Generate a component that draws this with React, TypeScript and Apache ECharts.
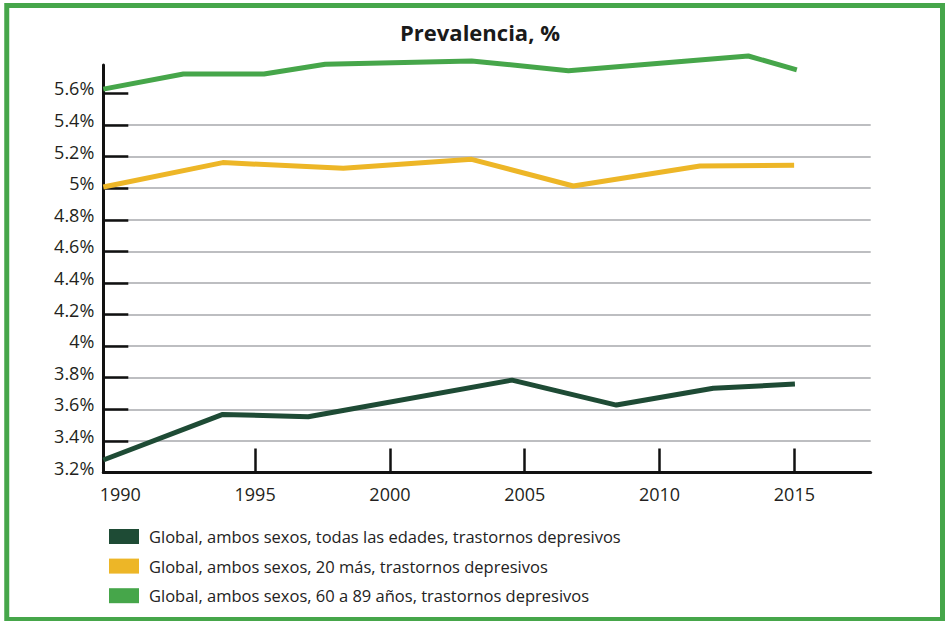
import React, { useEffect, useRef } from "react";
import * as echarts from "echarts";

const seriesNames = [
  "Global, ambos sexos, todas las edades, trastornos depresivos",
  "Global, ambos sexos, 20 más, trastornos depresivos",
  "Global, ambos sexos, 60 a 89 años, trastornos depresivos",
];
const seriesColors = ["#1E4B35", "#EDB627", "#46A64A"];

const darkYears = [1989.37, 1993.8, 1996.97, 2004.53, 2008.4, 2011.99, 2015.02];
const darkValues = [3.279, 3.568, 3.553, 3.785, 3.627, 3.733, 3.76];

const yellowYears = [1989.37, 1993.8, 1998.27, 2003.03, 2006.8, 2011.5, 2014.99];
const yellowValues = [5.008, 5.162, 5.126, 5.183, 5.014, 5.141, 5.145];

const greenYears = [1989.37, 1992.34, 1995.33, 1997.6, 2003.03, 2006.62, 2013.29, 2015.09];
const greenValues = [5.627, 5.723, 5.723, 5.785, 5.806, 5.744, 5.837, 5.749];

const xTickYears = [1990, 1995, 2000, 2005, 2010, 2015];
const xTickMarks = [1995, 2000, 2005, 2010, 2015];
const yTicks = [3.2, 3.4, 3.6, 3.8, 4.0, 4.2, 4.4, 4.6, 4.8, 5.0, 5.2, 5.4, 5.6];

function pairs(xs: number[], ys: number[]) {
  return xs.map((x, i) => [x, ys[i]]);
}

export default function App() {
  const ref = useRef<HTMLDivElement>(null);
  useEffect(() => {
    if (!ref.current) return;
    const chart = echarts.init(ref.current, undefined, { renderer: "svg" });
    const data = [
      pairs(darkYears, darkValues),
      pairs(yellowYears, yellowValues),
      pairs(greenYears, greenValues),
    ];
    chart.setOption({
      animation: false,
      backgroundColor: "#ffffff",
      title: {
        text: "Prevalencia, %",
        left: 475,
        top: 16,
        textAlign: "center",
        textStyle: {
          fontFamily: "Open Sans",
          fontWeight: "bold",
          fontSize: 22,
          color: "#1a1a1a",
        },
      },
      legend: {
        orient: "vertical",
        left: 104,
        top: 521.5,
        itemWidth: 30,
        itemHeight: 15,
        itemGap: 9.6,
        icon: "rect",
        data: seriesNames,
        textStyle: {
          fontFamily: "Open Sans",
          fontSize: 16.5,
          lineHeight: 20,
          color: "#222222",
          padding: [0, 0, 0, 5],
        },
      },
      grid: {
        left: 103.3,
        right: 74.3,
        top: 65,
        bottom: 148.5,
        containLabel: false,
      },
      xAxis: {
        type: "value",
        min: 1989.37,
        max: 2017.83,
        axisLine: { show: true, lineStyle: { color: "#111111", width: 3 } },
        axisTick: {
          show: true,
          inside: true,
          length: 24,
          customValues: xTickMarks,
          lineStyle: { color: "#111111", width: 2.5 },
        },
        axisLabel: {
          customValues: xTickYears,
          margin: 12,
          fontFamily: "Open Sans",
          fontSize: 18,
          color: "#231F20",
          formatter: (v: number) => String(Math.round(v)),
        },
        splitLine: { show: false },
      },
      yAxis: {
        type: "value",
        min: 3.2,
        max: 5.78,
        interval: 0.2,
        axisLine: { show: true, lineStyle: { color: "#111111", width: 3 } },
        axisTick: {
          show: true,
          inside: true,
          length: 25,
          customValues: yTicks,
          lineStyle: { color: "#111111", width: 2.5 },
        },
        axisLabel: {
          customValues: yTicks,
          margin: 9,
          fontFamily: "Open Sans",
          fontSize: 18,
          color: "#231F20",
          verticalAlign: "bottom",
          lineHeight: 10,
          formatter: (v: number) => Math.round(v * 10) / 10 + "%",
        },
        splitLine: {
          show: true,
          showMinLine: false,
          showMaxLine: false,
          lineStyle: { color: "#A7A9AC", width: 1.5 },
        },
      },
      series: seriesNames.map((name, i) => ({
        name,
        type: "line",
        data: data[i],
        symbol: "none",
        clip: false,
        color: seriesColors[i],
        itemStyle: { color: seriesColors[i] },
        lineStyle: { color: seriesColors[i], width: 5 },
        z: 3,
      })),
      graphic: [
        {
          type: "rect",
          shape: { x: 6.75, y: 5.5, width: 935.75, height: 614 },
          style: { fill: "none", stroke: "#46A64A", lineWidth: 5 },
          silent: true,
        },
      ],
    });
    return () => chart.dispose();
  }, []);
  return (
    <div
      ref={ref}
      style={{ position: "fixed", left: 0, top: 0, width: 945, height: 621 }}
    />
  );
}
